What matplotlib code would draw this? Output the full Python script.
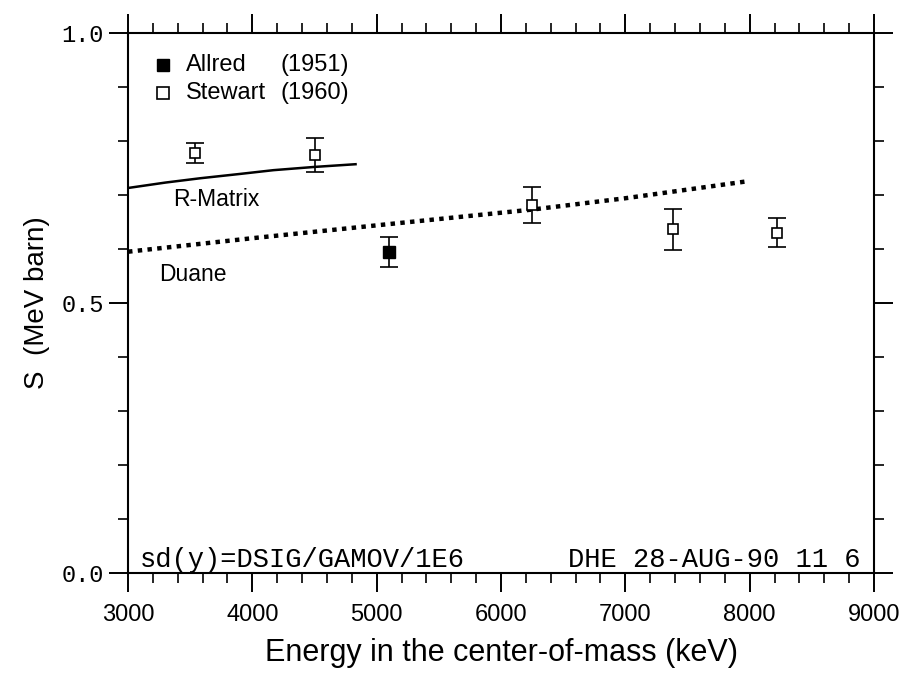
import numpy as np
import matplotlib
matplotlib.use("Agg")
import matplotlib.pyplot as plt
from matplotlib.ticker import MultipleLocator

# Stewart (1960), open squares
stewart_e = [3540, 4500, 6250, 7380, 8220]
stewart_s = [0.778, 0.774, 0.681, 0.637, 0.630]
stewart_err = [0.019, 0.031, 0.033, 0.038, 0.027]

# Allred (1951), filled square
allred_e = [5100]
allred_s = [0.594]
allred_err = [0.028]

# R-Matrix curve (solid)
rmat_e = [3000, 3300, 3580, 3900, 4170, 4500, 4830]
rmat_s = [0.713, 0.723, 0.731, 0.739, 0.746, 0.752, 0.757]

# Duane curve (dotted)
duane_e = [3000, 4000, 5050, 6250, 7000, 8000]
duane_s = [0.595, 0.620, 0.645, 0.673, 0.694, 0.726]

plt.rcParams["font.family"] = ["Liberation Sans", "DejaVu Sans"]

fig = plt.figure(figsize=(9.1, 6.79), dpi=100)
ax = fig.add_axes([0.1407, 0.1561, 0.8197, 0.7953])

ax.plot(rmat_e, rmat_s, color="black", lw=1.8)
ax.plot(duane_e, duane_s, color="black", lw=3.2, linestyle=(0, (1.0, 1.2)),
        dash_capstyle="butt")

ax.errorbar(stewart_e, stewart_s, yerr=stewart_err, fmt="s", mfc="white",
            mec="black", ms=7.5, mew=1.2, ecolor="black", elinewidth=1.2,
            capsize=6.5, capthick=1.2)
ax.errorbar(allred_e, allred_s, yerr=allred_err, fmt="s", mfc="black",
            mec="black", ms=8.5, ecolor="black", elinewidth=1.2,
            capsize=6.5, capthick=1.2)

# legend drawn by hand like the original
ax.plot([3282], [0.941], "s", mfc="black", mec="black", ms=8)
ax.plot([3282], [0.889], "s", mfc="white", mec="black", ms=8, mew=1.2)
ax.text(3467, 0.941, "Allred", fontsize=17, va="center")
ax.text(4223, 0.941, "(1951)", fontsize=17, va="center")
ax.text(3467, 0.889, "Stewart", fontsize=17, va="center")
ax.text(4223, 0.889, "(1960)", fontsize=17, va="center")

ax.text(3360, 0.691, "R-Matrix", fontsize=16.5, va="center")
ax.text(3250, 0.552, "Duane", fontsize=16.5, va="center")

ax.text(3097, 0.012, "sd(y)=DSIG/GAMOV/1E6", fontsize=19.5,
        family="Liberation Mono", va="baseline")
ax.text(6540, 0.012, "DHE 28-AUG-90 11 6", fontsize=19.5,
        family="Liberation Mono", va="baseline")

ax.set_xlim(3000, 9000)
ax.set_ylim(0.0, 1.0)
ax.xaxis.set_major_locator(MultipleLocator(1000))
ax.xaxis.set_minor_locator(MultipleLocator(200))
ax.yaxis.set_minor_locator(MultipleLocator(0.1))
ax.set_yticks([0.0, 0.5, 1.0])
ax.set_yticklabels(["0.0", "0.5", "1.0"], family="Liberation Mono", fontsize=17)
ax.tick_params(axis="x", labelsize=17, pad=8)
ax.tick_params(which="major", direction="out", length=14, width=1.4,
               top=True, right=True)
ax.tick_params(which="minor", direction="out", length=7.5, width=1.2,
               top=True, right=True)
for sp in ax.spines.values():
    sp.set_linewidth(1.5)

ax.set_xlabel("Energy in the center-of-mass (keV)", fontsize=22, labelpad=9)
ax.set_ylabel("S  (MeV barn)", fontsize=20, labelpad=8)

fig.savefig("out.png", dpi=100)
